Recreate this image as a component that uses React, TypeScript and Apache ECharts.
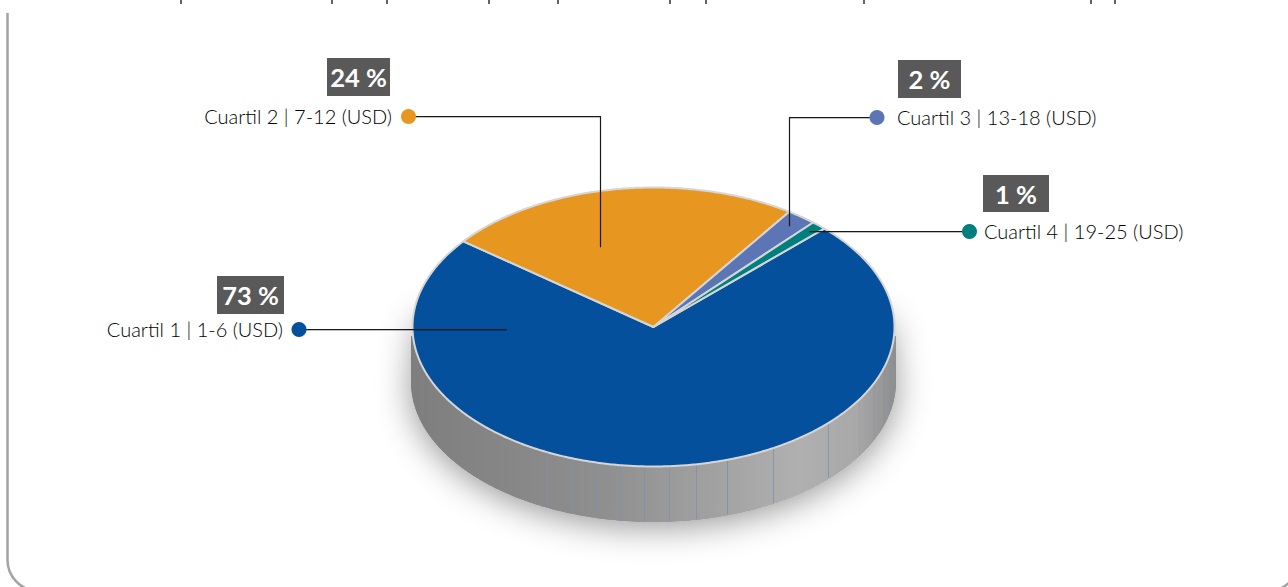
import React, { useEffect, useRef } from "react";
import * as echarts from "echarts";

const categories = ["Cuartil 1 | 1-6 (USD)", "Cuartil 2 | 7-12 (USD)", "Cuartil 3 | 13-18 (USD)", "Cuartil 4 | 19-25 (USD)"];
const shares = [73, 24, 2, 1];
const sliceColors = ["#05509d", "#e79720", "#5c75b5", "#007f7f"];

const FONT = "Lato";
const CX = 653.5, CY = 327, RX = 241, RY = 139.5, DEPTH = 55;
const FIRST_SLICE_START_DEG = 44.9;

// Facet seams of the pie's side wall (x offset from the centre, strength)
const wallSeams: [number, number][] = [
  [-135, 0.15], [-106, 0.8], [-81, 0.8], [-57, 0.85], [-33, 0.85], [-9, 0.85], [16, 0.85], [43, 0.85],
  [74, 0.85], [120, 0.85], [175, 0.8], [206, 0.2], [221, 0.4], [231, 0.6], [237, 0.6],
];
// Lower edges of the cropped-off heading line above the frame
const croppedHeadingMarks = [181, 332, 387, 489, 558, 670, 706, 864, 1091, 1115];

// Callout layout, one per category
const callouts = [
  { dot: [299, 329.5], elbow: null, end: [507, 329.5], box: [217, 276, 67, 38], textX: 283, align: "right" },
  { dot: [408.5, 116.5], elbow: [600.5, 116.5], end: [600.5, 247], box: [327, 58, 63, 38], textX: 392, align: "right" },
  { dot: [877, 117.5], elbow: [789.5, 117.5], end: [789.5, 226], box: [898, 60, 63, 38], textX: 897, align: "left" },
  { dot: [969.5, 231.5], elbow: null, end: [809, 231.5], box: [983, 175, 66, 37], textX: 984, align: "left" },
];

const total = shares.reduce((a, b) => a + b, 0);

function sliceRange(i: number) {
  let before = 0;
  for (let k = 0; k < i; k++) before += shares[k];
  const start = FIRST_SLICE_START_DEG - (before / total) * 360;
  const end = start - (shares[i] / total) * 360;
  return [start, end];
}

function ellipsePoint(deg: number, cy = CY, rx = RX, ry = RY) {
  const a = (deg * Math.PI) / 180;
  return [CX + rx * Math.cos(a), cy - ry * Math.sin(a)];
}

function renderSlice(params: any, api: any) {
  const [start, end] = sliceRange(api.value(0));
  const pts: number[][] = [[CX, CY]];
  const steps = Math.max(2, Math.ceil((start - end) / 0.5));
  for (let s = 0; s <= steps; s++) pts.push(ellipsePoint(start + ((end - start) * s) / steps));
  return {
    type: "polygon",
    shape: { points: pts },
    style: { fill: sliceColors[api.value(0)], stroke: "#d6d6d6", lineWidth: 2, lineJoin: "round" },
  };
}

function renderWall() {
  const rx = RX + 1.5, ry = RY + 0.5, cy = CY + DEPTH;
  const arc: number[][] = [];
  for (let d = 180; d <= 360; d += 0.5) arc.push(ellipsePoint(d, cy, rx, ry));
  const wall = [[CX - rx, CY + 9], ...arc, [CX + rx, CY + 9]];
  const caster = [[CX - rx + 8, CY - 12], ...arc, [CX + rx - 8, CY - 12]];
  const seams = wallSeams.map(([dx, o]) => {
    const topY = CY + RY * Math.sqrt(1 - (dx * dx) / (RX * RX));
    const botY = cy + ry * Math.sqrt(1 - (dx * dx) / (rx * rx));
    return {
      type: "line",
      shape: { x1: CX + dx, y1: topY, x2: CX + dx, y2: botY - 1 },
      style: { stroke: "#7f90ab", lineWidth: 1, opacity: o },
    };
  });
  return {
    type: "group",
    children: [
      {
        type: "polygon",
        shape: { points: caster },
        style: { fill: "#8f8f8f", shadowBlur: 34, shadowColor: "rgba(0,0,0,0.42)", shadowOffsetY: 5 },
      },
      {
        type: "polygon",
        shape: { points: wall },
        style: {
          fill: {
            type: "linear", x: 0, y: 0, x2: 1, y2: 0,
            colorStops: [
              { offset: 0, color: "#7e7e7e" },
              { offset: 0.4, color: "#8f8f8f" },
              { offset: 0.8, color: "#b0b0b0" },
              { offset: 0.92, color: "#a8a8a8" },
              { offset: 1, color: "#8e8e8e" },
            ],
          },
        },
      },
      ...seams,
    ],
  };
}

function buildGraphics() {
  const els: any[] = [];
  const ink = "#1a1a1a";
  // Frame: left edge and the two lower corners, which run off the page
  els.push({ type: "line", shape: { x1: 7.5, y1: 13, x2: 7.5, y2: 560 }, style: { stroke: "#a3a3a3", lineWidth: 2.5 } });
  els.push({ type: "arc", shape: { cx: 38.5, cy: 560, r: 31, startAngle: Math.PI / 2, endAngle: Math.PI, clockwise: true }, style: { stroke: "#a3a3a3", lineWidth: 2.5, fill: "none" } });
  els.push({ type: "arc", shape: { cx: 1268, cy: 560, r: 31, startAngle: 0, endAngle: Math.PI / 2, clockwise: true }, style: { stroke: "#a3a3a3", lineWidth: 2.5, fill: "none" } });
  croppedHeadingMarks.forEach((x) =>
    els.push({ type: "line", shape: { x1: x, y1: 0, x2: x, y2: 4 }, style: { stroke: "#222222", lineWidth: 1.4 } })
  );
  callouts.forEach((c, i) => {
    const pts = c.elbow ? [c.dot, c.elbow, c.end] : [c.dot, c.end];
    els.push({ type: "polyline", z: 10, shape: { points: pts.map(([x, y]) => [x, y + 1]) }, style: { stroke: "rgba(0,0,0,0.25)", lineWidth: 1, fill: "none" } });
    els.push({ type: "polyline", z: 11, shape: { points: pts }, style: { stroke: ink, lineWidth: 1.2, fill: "none" } });
    els.push({ type: "circle", z: 12, shape: { cx: c.dot[0], cy: c.dot[1], r: 7.5 }, style: { fill: sliceColors[i] } });
    els.push({ type: "rect", z: 12, shape: { x: c.box[0], y: c.box[1], width: c.box[2], height: c.box[3] }, style: { fill: "#595959" } });
    els.push({
      type: "text", z: 13, x: c.box[0] + c.box[2] / 2, y: c.box[1] + c.box[3] / 2,
      style: { text: `${shares[i]} %`, fill: "#ffffff", font: `700 25.5px ${FONT}`, align: "center", verticalAlign: "middle" },
    });
    els.push({
      type: "text", z: 13, x: c.textX, y: c.dot[1] - 0.5,
      style: { text: categories[i], fill: "#000000", font: `300 20px ${FONT}`, align: c.align, verticalAlign: "middle" },
    });
  });
  return els;
}

export default function App() {
  const ref = useRef<HTMLDivElement>(null);
  useEffect(() => {
    document.body.style.margin = "0";
    const chart = echarts.init(ref.current!, null, { renderer: "svg" });
    chart.setOption({
      animation: false,
      backgroundColor: "#ffffff",
      graphic: { elements: buildGraphics() },
      series: [
        { type: "custom", coordinateSystem: "none", silent: true, z: 1, data: [[0]], renderItem: renderWall },
        { type: "custom", coordinateSystem: "none", silent: true, z: 2, data: shares.map((_, i) => [i]), renderItem: renderSlice },
      ],
    });
    return () => chart.dispose();
  }, []);
  return <div ref={ref} style={{ width: 1288, height: 587, position: "fixed", left: 0, top: 0 }} />;
}
